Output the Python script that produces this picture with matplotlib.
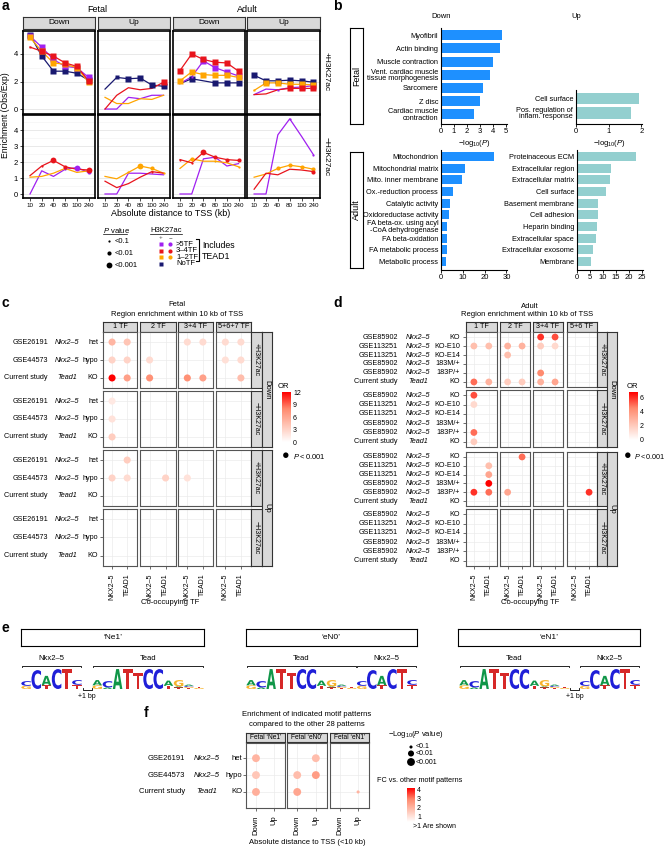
import numpy as np
import matplotlib
matplotlib.use("Agg")
import matplotlib.pyplot as plt
import matplotlib.transforms as mtransforms
from matplotlib.patches import PathPatch
from matplotlib.textpath import TextPath
from matplotlib.font_manager import FontProperties
from matplotlib.colors import LinearSegmentedColormap, Normalize

plt.rcParams['font.family'] = ['Liberation Sans', 'DejaVu Sans']
plt.rcParams['mathtext.fontset'] = 'custom'
plt.rcParams['mathtext.rm'] = 'Liberation Sans'
plt.rcParams['mathtext.it'] = 'Liberation Sans:italic'

# ---------------- panel a data ----------------
dist_labels = ['10', '20', '40', '80', '100', '240']
tf_order = ['NoTF', '>5TF', '1–2TF', '3–4TF']
tf_colors = {'>5TF': '#A020F0', '3–4TF': '#E8141C', '1–2TF': '#FFA500', 'NoTF': '#191970'}

# +H3K27ac
fetal_down_plus = {'>5TF': [5.3, 4.5, 3.6, 3.1, 3.0, 2.3], '3–4TF': [4.5, 4.2, 3.85, 3.35, 3.1, 2.05],
                   '1–2TF': [5.2, 4.2, 3.35, 3.25, 3.0, 1.95], 'NoTF': [5.4, 3.85, 2.75, 2.75, 2.6, 2.1]}
fetal_up_plus = {'>5TF': [0, 0, 0.85, 0.75, 1.0, 1.0], '3–4TF': [0, 1.0, 1.55, 1.4, 1.5, 1.95],
                 '1–2TF': [0.85, 0.4, 0.4, 0.75, 0.7, 1.0], 'NoTF': [1.45, 2.3, 2.2, 2.25, 1.75, 1.65]}
adult_down_plus = {'>5TF': [1.85, 2.35, 3.5, 3.0, 2.7, 2.4], '3–4TF': [2.8, 4.0, 3.6, 3.4, 3.35, 2.75],
                   '1–2TF': [2.05, 2.7, 2.5, 2.45, 2.45, 2.3], 'NoTF': [1.85, 2.2, 2.05, 1.9, 1.9, 1.9]}
adult_up_plus = {'>5TF': [1.05, 1.45, 1.4, 1.55, 1.6, 1.7], '3–4TF': [1.05, 1.1, 1.4, 1.5, 1.5, 1.5],
                 '1–2TF': [1.35, 1.9, 1.9, 1.8, 1.8, 1.75], 'NoTF': [2.45, 2.05, 2.05, 2.1, 2.05, 1.95]}
# -H3K27ac
fetal_down_minus = {'>5TF': [0, 1.45, 1.1, 1.55, 1.65, 1.35], '3–4TF': [1.15, 1.75, 2.1, 1.7, 1.55, 1.5],
                    '1–2TF': [1.05, 1.1, 1.3, 1.6, 1.35, 1.45]}
fetal_up_minus = {'>5TF': [0, 0, 1.3, 1.3, 1.25, 1.2], '3–4TF': [0.8, 0.4, 0.65, 1.05, 1.4, 1.3],
                  '1–2TF': [1.1, 0.95, 1.35, 1.75, 1.6, 1.3]}
adult_down_minus = {'>5TF': [0, 0, 2.2, 2.3, 1.75, 1.9], '3–4TF': [2.15, 1.95, 2.6, 2.3, 2.15, 2.1],
                    '1–2TF': [1.6, 2.2, 2.05, 2.05, 1.95, 1.7]}
adult_up_minus = {'>5TF': [0, 0, 3.7, 4.7, 3.6, 2.45], '3–4TF': [0.3, 1.3, 1.2, 1.55, 1.5, 1.4],
                  '1–2TF': [1.05, 1.25, 1.6, 1.8, 1.7, 1.55]}

# P value class per point: 0 none, 1 <0.1, 2 <0.01, 3 <0.001
fetal_down_plus_p = {'>5TF': [3, 3, 3, 3, 3, 3], '3–4TF': [1, 3, 3, 3, 3, 3], '1–2TF': [3, 3, 3, 3, 3, 3], 'NoTF': [3, 3, 3, 3, 3, 3]}
fetal_up_plus_p = {'>5TF': [0, 0, 0, 0, 0, 0], '3–4TF': [0, 0, 0, 0, 0, 3], '1–2TF': [0, 0, 0, 0, 0, 0], 'NoTF': [0, 2, 3, 3, 3, 3]}
adult_down_plus_p = {'>5TF': [0, 1, 3, 3, 3, 3], '3–4TF': [3, 3, 3, 3, 3, 3], '1–2TF': [3, 3, 3, 3, 3, 3], 'NoTF': [0, 3, 0, 3, 3, 3]}
adult_up_plus_p = {'>5TF': [0, 0, 1, 2, 3, 3], '3–4TF': [0, 0, 0, 3, 3, 3], '1–2TF': [1, 3, 3, 3, 3, 3], 'NoTF': [3, 3, 3, 3, 3, 3]}
fetal_down_minus_p = {'>5TF': [0, 0, 0, 1, 3, 2], '3–4TF': [0, 1, 3, 2, 0, 3], '1–2TF': [0, 0, 0, 0, 0, 0]}
fetal_up_minus_p = {'>5TF': [0, 0, 0, 0, 0, 0], '3–4TF': [0, 0, 0, 0, 1, 0], '1–2TF': [0, 0, 1, 3, 2, 1]}
adult_down_minus_p = {'>5TF': [0, 0, 0, 0, 0, 0], '3–4TF': [1, 1, 3, 2, 2, 2], '1–2TF': [0, 2, 0, 1, 0, 1]}
adult_up_minus_p = {'>5TF': [0, 0, 0, 1, 0, 1], '3–4TF': [0, 0, 0, 0, 0, 2], '1–2TF': [0, 0, 2, 2, 2, 2]}

# ---------------- panel b data ----------------
fetal_down_terms = ['Myofibril', 'Actin binding', 'Muscle contraction', 'Vent. cardiac muscle\ntissue morphogenesis',
                    'Sarcomere', 'Z disc', 'Cardiac muscle\ncontraction']
fetal_down_vals = [4.7, 4.5, 3.95, 3.75, 3.25, 2.95, 2.55]
fetal_up_terms = ['Cell surface', 'Pos. regulation of\ninflam. response']
fetal_up_vals = [1.93, 1.68]
adult_down_terms = ['Mitochondrion', 'Mitochondrial matrix', 'Mito. inner membrane', 'Ox.-reduction process',
                    'Catalytic activity', 'Oxidoreductase activity', 'FA beta-ox. using acyl\n-CoA dehydrogenase',
                    'FA beta-oxidation', 'FA metabolic process', 'Metabolic process']
adult_down_vals = [24.5, 11, 9.8, 5.5, 4.2, 3.6, 2.8, 2.7, 2.7, 2.4]
adult_up_terms = ['Proteinaceous ECM', 'Extracellular region', 'Extracellular matrix', 'Cell surface',
                  'Basement membrane', 'Cell adhesion', 'Heparin binding', 'Extracellular space',
                  'Extracellular exosome', 'Membrane']
adult_up_vals = [22.5, 13, 12.7, 11.2, 8.2, 8, 7.6, 7.2, 6.2, 5.5]

# ---------------- panel c / d data ----------------
tf_labels = ['NKX2–5', 'TEAD1']
facet_rows = [('Down', '+H3K27ac'), ('Down', '−H3K27ac'), ('Up', '+H3K27ac'), ('Up', '−H3K27ac')]
c_samples = [('GSE26191', 'Nkx2–5', 'het'), ('GSE44573', 'Nkx2–5', 'hypo'), ('Current study', 'Tead1', 'KO')]
c_cols = ['1 TF', '2 TF', '3+4 TF', '5+6+7 TF']
# (column, tf, sample, OR)
c_down_plus = [(0, 0, 0, 5.0), (0, 1, 0, 4.0), (2, 0, 0, 2.5), (2, 1, 0, 2.5), (3, 0, 0, 2.5), (3, 1, 0, 2.5),
               (0, 0, 1, 3.0), (0, 1, 1, 3.0), (1, 0, 1, 2.5), (3, 0, 1, 2.2), (3, 1, 1, 2.5),
               (0, 0, 2, 12.0), (0, 1, 2, 6.5), (1, 0, 2, 7.5), (2, 0, 2, 7.5), (2, 1, 2, 6.5), (3, 1, 2, 4.5)]
c_down_minus = [(0, 0, 0, 1.5), (0, 0, 1, 2.0), (0, 0, 2, 3.5)]
c_up_plus = [(0, 1, 0, 3.5), (0, 0, 1, 3.0), (0, 1, 1, 2.5), (1, 1, 1, 3.0), (2, 0, 1, 2.0)]
c_up_minus = []

d_samples = [('GSE85902', 'Nkx2–5', 'KO'), ('GSE113251', 'Nkx2–5', 'KO-E10'), ('GSE113251', 'Nkx2–5', 'KO-E14'),
             ('GSE85902', 'Nkx2–5', '183M/+'), ('GSE85902', 'Nkx2–5', '183P/+'), ('Current study', 'Tead1', 'KO')]
d_cols = ['1 TF', '2 TF', '3+4 TF', '5+6 TF']
d_down_plus = [(2, 0, 0, 6.0), (2, 1, 0, 5.5), (0, 0, 1, 2.5), (0, 1, 1, 2.5), (1, 0, 1, 3.0), (1, 1, 1, 3.0),
               (2, 0, 1, 2.0), (2, 1, 1, 1.5), (1, 0, 2, 2.5), (2, 0, 4, 4.5), (0, 0, 5, 5.0), (0, 1, 5, 3.0),
               (1, 0, 5, 2.0), (1, 1, 5, 2.0), (2, 0, 5, 3.0), (2, 1, 5, 3.5)]
d_down_minus = [(0, 0, 0, 5.5), (0, 0, 1, 1.5), (0, 0, 4, 5.0), (0, 0, 5, 2.0)]
d_up_plus = [(1, 1, 0, 5.0), (0, 1, 1, 2.5), (0, 1, 2, 3.5), (0, 1, 3, 6.8), (0, 0, 4, 6.0), (0, 1, 4, 5.0),
             (1, 0, 4, 3.5), (3, 1, 4, 6.0)]
d_up_minus = []

# ---------------- panel e data (motif logos) ----------------
nkx_motif = [[('G', 0.3), ('C', 0.45)], [('C', 1.8)], [('T', 0.35), ('A', 0.9)],
             [('C', 1.9)], [('T', 1.9)], [('T', 0.4), ('C', 0.45)]]
tead_motif = [[('G', 0.35), ('A', 0.5)], [('A', 0.15), ('C', 0.6)], [('A', 1.9)], [('T', 1.9)],
              [('T', 1.5)], [('C', 1.9)], [('C', 1.9)], [('T', 0.3), ('A', 0.5)],
              [('T', 0.15), ('A', 0.1), ('G', 0.6)], [('T', 0.1), ('G', 0.1), ('C', 0.1), ('A', 0.12)],
              [('G', 0.1), ('T', 0.12)]]
base_colors = {'A': '#109648', 'C': '#1F1FD8', 'G': '#F7B32B', 'T': '#D62828'}

# ---------------- panel f data ----------------
f_cols = ['Fetal ‘Ne1’', 'Fetal ‘eN0’', 'Fetal ‘eN1’']
f_xlabels = ['Down', 'Up']
# (column, direction, sample, FC, P class)
f_dots = [(0, 0, 0, 2.0, 3), (0, 0, 1, 1.6, 3), (0, 0, 2, 2.1, 3), (1, 1, 0, 1.8, 3), (1, 0, 1, 1.8, 3),
          (1, 1, 1, 2.5, 3), (1, 0, 2, 2.3, 3), (2, 1, 2, 2.0, 1)]

# ======================================================================
W, H = 667, 849
fig = plt.figure(figsize=(W / 100, H / 100), dpi=100)
fig.patch.set_facecolor('white')
or_cmap = LinearSegmentedColormap.from_list('wr', ['#FFFFFF', '#FFC5B5', '#FF8A6E', '#FF0000'])


def box(x0, y0, x1, y1):
    return fig.add_axes([x0 / W, 1 - y1 / H, (x1 - x0) / W, (y1 - y0) / H])


def ftext(x, y, s, **kw):
    kw.setdefault('ha', 'center')
    kw.setdefault('va', 'center')
    fig.text(x / W, 1 - y / H, s, **kw)


def strip(x0, y0, x1, y1, label, rot=0, fs=5.5):
    a = box(x0, y0, x1, y1)
    a.set_facecolor('#D9D9D9')
    a.set_xticks([])
    a.set_yticks([])
    for s in a.spines.values():
        s.set_linewidth(0.8)
        s.set_color('#333333')
    a.text(0.5, 0.5, label, ha='center', va='center', rotation=rot, fontsize=fs, transform=a.transAxes)


def panel_letter(x, y, s):
    ftext(x, y, s, fontsize=10, fontweight='bold', ha='left')


# ---------------- panel a ----------------
panel_letter(2, 6, 'a')
ftext(97, 9, 'Fetal', fontsize=6.5)
ftext(247, 9, 'Adult', fontsize=6.5)
a_cols_x = [(23, 95), (98, 170), (173, 245), (247, 320)]
a_rows_y = [(31, 114), (115, 198)]
a_data = [[fetal_down_plus, fetal_up_plus, adult_down_plus, adult_up_plus],
          [fetal_down_minus, fetal_up_minus, adult_down_minus, adult_up_minus]]
a_pval = [[fetal_down_plus_p, fetal_up_plus_p, adult_down_plus_p, adult_up_plus_p],
          [fetal_down_minus_p, fetal_up_minus_p, adult_down_minus_p, adult_up_minus_p]]
ms_map = {0: 0, 1: 1.6, 2: 3.0, 3: 4.2}
a_ylims = [(-0.36, 5.67), (-0.25, 4.94)]
a_yticks = [[0, 2, 4], [0, 1, 2, 3, 4]]
a_minor = [[1, 3, 5], [0.5, 1.5, 2.5, 3.5, 4.5]]
for c, (x0, x1) in enumerate(a_cols_x):
    strip(x0, 17, x1, 29, ['Down', 'Up'][c % 2], fs=6)
for r, (y0, y1) in enumerate(a_rows_y):
    for c, (x0, x1) in enumerate(a_cols_x):
        ax = box(x0, y0, x1, y1)
        for yy in a_minor[r]:
            ax.axhline(yy, color='#F2F2F2', lw=0.4, zorder=0)
        for yy in a_yticks[r]:
            ax.axhline(yy, color='#E5E5E5', lw=0.6, zorder=0)
        data = a_data[r][c]
        pv = a_pval[r][c]
        x = np.arange(1, 7)
        for g in tf_order:
            if g not in data:
                continue
            ax.plot(x, data[g], color=tf_colors[g], lw=0.9, zorder=2)
            for xi, yi, k in zip(x, data[g], pv[g]):
                if ms_map[k]:
                    ax.plot(xi, yi, marker='s' if r == 0 else 'o', ms=ms_map[k], color=tf_colors[g],
                            mec='none', zorder=3)
        ax.set_xlim(0.4, 6.55)
        ax.set_ylim(*a_ylims[r])
        ax.set_xticks(x)
        ax.set_yticks(a_yticks[r])
        for s in ax.spines.values():
            s.set_linewidth(1.2)
        ax.tick_params(length=2, width=0.5, labelsize=5.5, pad=1.5)
        if r == 1:
            ax.set_xticklabels(dist_labels, fontsize=4.5)
        else:
            ax.set_xticklabels([])
            ax.tick_params(axis='x', length=0)
        if c > 0:
            ax.set_yticklabels([])
            ax.tick_params(axis='y', length=0)
ftext(326, 72, '+H3K27ac', fontsize=6, rotation=-90)
ftext(326, 157, '−H3K27ac', fontsize=6, rotation=-90)
ftext(6, 115, 'Enrichment (Obs/Exp)', fontsize=6.2, rotation=90)
ftext(171, 213, 'Absolute distance to TSS (kb)', fontsize=6.5)

# legend a
leg = box(95, 222, 250, 275)
leg.set_xlim(95, 250)
leg.set_ylim(275, 222)
leg.axis('off')
leg.text(103, 230, r'$\mathregular{\mathit{P}\ value}$', fontsize=5.5, va='center')
leg.plot([103, 127], [233.5, 233.5], color='k', lw=0.5)
for yy, k, lab in zip([241, 253, 265], [1, 2, 3], ['<0.1', '<0.01', '<0.001']):
    leg.plot(109, yy, 'o', color='k', ms=ms_map[k], mec='none')
    leg.text(115, yy, lab, fontsize=5.5, va='center')
leg.text(150, 230, 'H3K27ac', fontsize=5.5, va='center')
leg.plot([150, 182], [233.5, 233.5], color='k', lw=0.5)
leg.text(161, 237.5, '+', fontsize=4.5, va='center', ha='center', color='#555555')
leg.text(170, 237.5, '−', fontsize=4.5, va='center', ha='center', color='#555555')
for yy, g in zip([244, 250.5, 257, 263.5], ['>5TF', '3–4TF', '1–2TF', 'NoTF']):
    leg.plot(161, yy, 's', color=tf_colors[g], ms=2.8, mec='none')
    if g != 'NoTF':
        leg.plot(170, yy, 'o', color=tf_colors[g], ms=3.0, mec='none')
    leg.text(176, yy, g, fontsize=5.5, va='center')
leg.plot([196, 199, 199, 196], [239, 239, 261, 261], color='k', lw=0.8)
leg.text(202, 245, 'Includes', fontsize=6.3, va='center')
leg.text(202, 256, 'TEAD1', fontsize=6.3, va='center')

# ---------------- panel b ----------------
panel_letter(333, 6, 'b')
ftext(441, 16, 'Down', fontsize=5.5)
ftext(576, 16, 'Up', fontsize=5.5)


def go_bars(x0, y0, x1, y1, terms, vals, color, xmax, ticks, xlabel=False):
    ax = box(x0, y0, x1, y1)
    pos = np.arange(len(terms))
    ax.barh(pos, vals, height=0.76, color=color)
    ax.set_ylim(len(terms) - 0.27, -0.55)
    ax.set_xlim(0, xmax)
    ax.set_xticks(ticks)
    ax.set_yticks(pos)
    ax.set_yticklabels(terms, fontsize=5.3, linespacing=0.85)
    ax.spines[['top', 'right']].set_visible(False)
    ax.spines['left'].set_linewidth(0.8)
    ax.spines['bottom'].set_linewidth(0.8)
    ax.tick_params(axis='y', length=0, pad=2)
    ax.tick_params(axis='x', length=2, width=0.6, labelsize=5.5, pad=1)
    if xlabel:
        ax.set_xlabel(r'$\mathregular{-log_{10}(\mathit{P})}$', fontsize=5.5, labelpad=2)
    return ax


go_bars(441, 28, 507, 124, fetal_down_terms, fetal_down_vals, '#1E90FF', 5.05, range(6), True)
go_bars(576, 90, 642, 124, fetal_up_terms, fetal_up_vals, '#93CFCF', 2.02, [0, 1, 2], True)
go_bars(441, 150, 507, 270, adult_down_terms, adult_down_vals, '#1E90FF', 30.3, [0, 10, 20, 30])
go_bars(577, 150, 643, 270, adult_up_terms, adult_up_vals, '#93CFCF', 25.3, [0, 5, 10, 15, 20, 25])
for (y0, y1, lab) in [(28, 124, 'Fetal'), (152, 268, 'Adult')]:
    bx = box(350, y0, 363, y1)
    bx.set_xticks([])
    bx.set_yticks([])
    for s in bx.spines.values():
        s.set_linewidth(0.8)
    bx.text(0.5, 0.5, lab, rotation=90, ha='center', va='center', fontsize=6.5, transform=bx.transAxes)


# ---------------- panels c and d ----------------
def row_labels(ax, samples, xs, xg, xc, fs=5.2):
    tr = mtransforms.blended_transform_factory(fig.transFigure, ax.transData)
    for i, (st, ge, co) in enumerate(samples):
        ax.text(xs / W, i + 1, st, transform=tr, ha='right', va='center', fontsize=fs)
        ax.text(xg / W, i + 1, ge, transform=tr, ha='center', va='center', fontsize=fs, style='italic')
        ax.text(xc / W, i + 1, co, transform=tr, ha='right', va='center', fontsize=fs)


def dot_grid(col_x, row_y, xlim, samples, cols, dots, norm, lab_x, inner_x, outer_x, s=26):
    n = len(samples)
    for c, (x0, x1) in enumerate(col_x):
        strip(x0, 322, x1, 332, cols[c], fs=5.2)
    for r, (y0, y1) in enumerate(row_y):
        for c, (x0, x1) in enumerate(col_x):
            ax = box(x0, y0, x1, y1)
            ax.set_xlim(*xlim)
            ax.set_ylim(n + 0.56, 0.44)
            ax.set_xticks([1, 2])
            ax.set_yticks(range(1, n + 1))
            ax.grid(True, color='#EBEBEB', lw=0.5)
            ax.set_axisbelow(True)
            ax.tick_params(length=2, width=0.5, color='#333333', labelsize=5)
            ax.set_yticklabels([])
            for sp in ax.spines.values():
                sp.set_color('#555555')
                sp.set_linewidth(0.8)
            if r == len(row_y) - 1:
                ax.set_xticklabels(tf_labels, rotation=90)
            else:
                ax.set_xticklabels([])
                ax.tick_params(axis='x', length=0)
            if c > 0:
                ax.tick_params(axis='y', length=0)
            else:
                row_labels(ax, samples, *lab_x)
            pts = [d for d in dots[r] if d[0] == c]
            if pts:
                ax.scatter([p[1] + 1 for p in pts], [p[2] + 1 for p in pts], c=[p[3] for p in pts],
                           cmap=or_cmap, norm=norm, s=s, edgecolors='none', zorder=3)
        strip(inner_x[0], y0, inner_x[1], y1, facet_rows[r][1], rot=-90, fs=5)
    strip(outer_x[0], row_y[0][0], outer_x[1], row_y[1][1], 'Down', rot=-90, fs=5.5)
    strip(outer_x[0], row_y[2][0], outer_x[1], row_y[3][1], 'Up', rot=-90, fs=5.5)


def colorbar(x0, y0, x1, y1, vmin, vmax, ticks, fs=5):
    ax = box(x0, y0, x1, y1)
    grad = np.linspace(vmin, vmax, 200).reshape(-1, 1)
    ax.imshow(grad, aspect='auto', cmap=or_cmap, origin='lower', extent=[0, 1, vmin, vmax], vmin=vmin, vmax=vmax)
    ax.set_xticks([])
    ax.yaxis.tick_right()
    ax.set_yticks(ticks)
    ax.set_ylim(vmin, vmax)
    ax.tick_params(axis='y', length=0, labelsize=fs, pad=1.5)
    for sp in ax.spines.values():
        sp.set_visible(False)
    return ax


panel_letter(2, 303, 'c')
ftext(177, 305, 'Fetal', fontsize=5.5)
ftext(177, 315, 'Region enrichment within 10 kb of TSS', fontsize=5.5)
c_norm = Normalize(0, 12)
dot_grid([(103, 137), (140, 176), (178, 213), (216, 251)],
         [(332, 388), (391, 447), (450, 506), (509, 566)], (0.4, 2.65),
         c_samples, c_cols, [c_down_plus, c_down_minus, c_up_plus, c_up_minus], c_norm,
         (48, 67, 98), (251, 262), (262, 272))
ftext(170, 603, 'Co-occupying TF', fontsize=5.5)
ftext(283, 386, 'OR', fontsize=5.5)
colorbar(282, 392, 291, 442, 0, 12, [0, 3, 6, 9, 12])
ftext(286, 456, '●', fontsize=9)
ftext(293, 456, r'$\mathregular{\mathit{P} < 0.001}$', fontsize=5.5, ha='left')

panel_letter(333, 303, 'd')
ftext(530, 306, 'Adult', fontsize=5.5)
ftext(527, 315, 'Region enrichment within 10 kb of TSS', fontsize=5.5)
d_norm = Normalize(0, 6.8)
dot_grid([(466, 497), (500, 530), (533, 563), (567, 597)],
         [(332, 387), (390, 447), (452, 506), (509, 566)], (0.47, 2.55),
         d_samples, d_cols, [d_down_plus, d_down_minus, d_up_plus, d_up_minus], d_norm,
         (398, 418, 460), (597, 607), (607, 617), s=24)
ftext(530, 603, 'Co-occupying TF', fontsize=5.5)
ftext(632, 386, 'OR', fontsize=5.5)
colorbar(629, 392, 638, 440, 0, 6.8, [0, 2, 4, 6])
ftext(628, 456, '●', fontsize=9)
ftext(634, 456, r'$\mathregular{\mathit{P} < 0.001}$', fontsize=5.2, ha='left')

# ---------------- panel e ----------------
panel_letter(2, 628, 'e')
logo_font = FontProperties(family='DejaVu Sans', weight='bold')


def draw_letter(ax, letter, x, y, w, h, color):
    tp = TextPath((0, 0), letter, size=1, prop=logo_font)
    bb = tp.get_extents()
    tr = mtransforms.Affine2D().translate(-bb.x0, -bb.y0).scale(w / bb.width, h / bb.height).translate(x, y)
    ax.add_patch(PathPatch(tr.transform_path(tp), fc=color, ec='none'))


def draw_logo(x0, x1, segments, names):
    cols = []
    for seg in segments:
        cols += seg if seg is not None else [None]
    ax = box(x0, 668, x1, 689)
    ax.set_xlim(-0.5, len(cols) - 0.5)
    ax.set_ylim(0, 2)
    ax.axis('off')
    for i, col in enumerate(cols):
        if col is None:
            continue
        y = 0
        for letter, h in col:
            draw_letter(ax, letter, i - 0.47, y, 0.94, h, base_colors[letter])
            y += h
    start = 0
    for seg, name in zip(segments, names):
        if seg is None:
            ax.plot([start - 0.45, start - 0.45, start + 0.45, start + 0.45], [0.1, -0.12, -0.12, 0.1],
                    color='k', lw=0.6, clip_on=False)
            ax.text(start, -0.67, '+1 bp', ha='center', va='center', fontsize=5)
            start += 1
        else:
            n = len(seg)
            ax.plot([start - 0.45, start - 0.45, start + n - 0.55, start + n - 0.55], [2.05, 2.19, 2.19, 2.05],
                    color='k', lw=0.6, clip_on=False)
            ax.text(start + (n - 1) / 2, 2.95, name, ha='center', va='center', fontsize=5.5)
            start += n


for (x0, x1, lab) in [(21, 204, '‘Ne1’'), (246, 417, '‘eN0’'), (458, 640, '‘eN1’')]:
    bx = box(x0, 629, x1, 646)
    bx.set_xticks([])
    bx.set_yticks([])
    for s in bx.spines.values():
        s.set_linewidth(0.8)
    bx.text(0.5, 0.5, lab, ha='center', va='center', fontsize=6, transform=bx.transAxes)

draw_logo(21, 204, [nkx_motif, None, tead_motif], ['Nkx2–5', None, 'Tead'])
draw_logo(246, 417, [tead_motif, nkx_motif], ['Tead', 'Nkx2–5'])
draw_logo(459, 640, [tead_motif, None, nkx_motif], ['Tead', None, 'Nkx2–5'])

# ---------------- panel f ----------------
panel_letter(144, 713, 'f')
ftext(307, 715, 'Enrichment of indicated motif patterns', fontsize=5.5)
ftext(307, 725, 'compared to the other 28 patterns', fontsize=5.5)
f_norm = Normalize(0.35, 4.2)
f_size = {1: 5, 2: 19, 3: 32}
for c, (x0, x1) in enumerate([(246, 285), (287, 327), (330, 369)]):
    strip(x0, 733, x1, 742, f_cols[c], fs=4.8)
    ax = box(x0, 743, x1, 808)
    ax.set_xlim(0.45, 2.6)
    ax.set_ylim(3.95, 0.1)
    ax.set_xticks([1, 2])
    ax.set_yticks([1, 2, 3])
    ax.grid(True, color='#EBEBEB', lw=0.5)
    ax.set_axisbelow(True)
    ax.tick_params(length=2, width=0.5, color='#333333', labelsize=5.5)
    ax.set_yticklabels([])
    ax.set_xticklabels(f_xlabels, rotation=90)
    for sp in ax.spines.values():
        sp.set_color('#555555')
        sp.set_linewidth(0.8)
    if c == 0:
        row_labels(ax, c_samples, 185, 207, 242, fs=5.5)
    else:
        ax.tick_params(axis='y', length=0)
    pts = [d for d in f_dots if d[0] == c]
    ax.scatter([p[1] + 1 for p in pts], [p[2] + 1 for p in pts], c=[p[3] for p in pts], cmap=or_cmap,
               norm=f_norm, s=[f_size[p[4]] for p in pts], edgecolors='none', zorder=3)
ftext(307, 843, 'Absolute distance to TSS (<10 kb)', fontsize=5.5)

ftext(388, 735, r'$\mathregular{-Log_{10}(\mathit{P}\ value)}$', fontsize=5.5, ha='left')
fl = box(400, 742, 450, 768)
fl.set_xlim(400, 450)
fl.set_ylim(768, 742)
fl.axis('off')
for yy, k, lab in zip([747, 753.5, 762], [1, 2, 3], ['<0.1', '<0.01', '<0.001']):
    fl.scatter(411, yy, s=f_size[k], color='k', edgecolors='none')
    fl.text(416, yy, lab, fontsize=5, va='center')
ftext(377, 781, 'FC vs. other motif patterns', fontsize=5.2, ha='left')
colorbar(407, 788, 415, 822, 0.35, 4.2, [1, 2, 3, 4], fs=5)
ftext(413, 826, '>1 Are shown', fontsize=5, ha='left')

fig.savefig('out.png', dpi=100, facecolor='white')
